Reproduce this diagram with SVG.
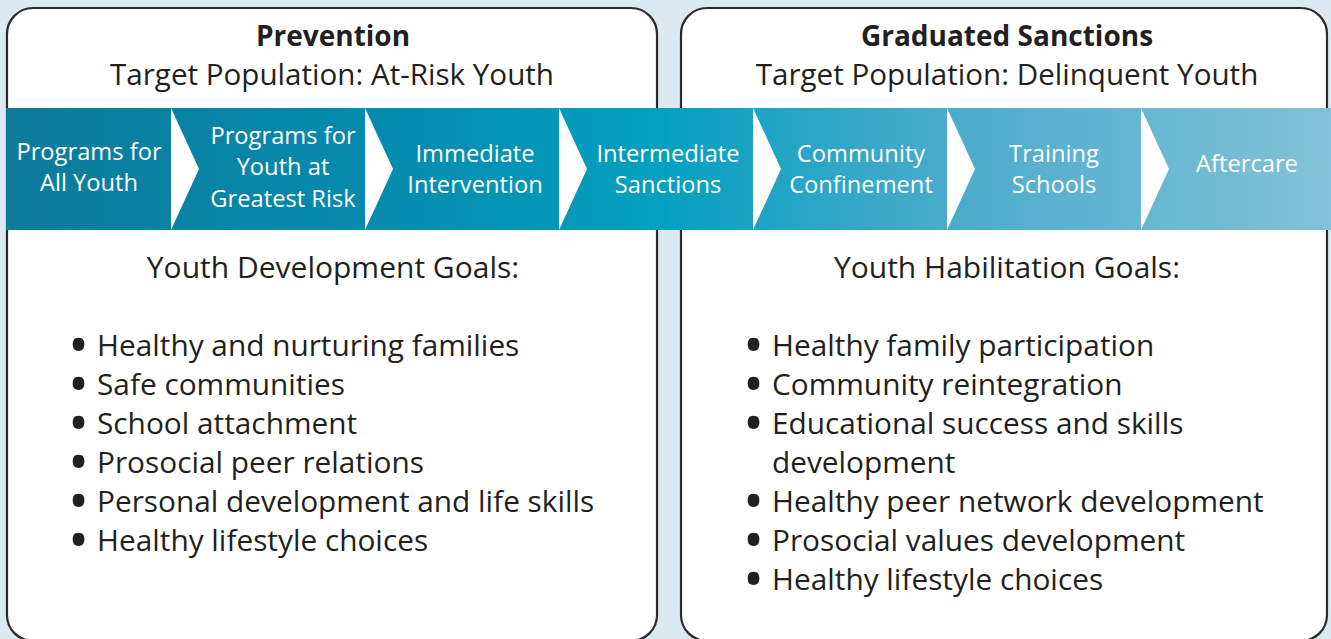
<svg xmlns="http://www.w3.org/2000/svg" width="1331" height="639" viewBox="0 0 1331 639">
<defs>
<linearGradient id="band" x1="0" y1="0" x2="1331" y2="0" gradientUnits="userSpaceOnUse">
<stop offset="0" stop-color="#0c7a9b"/>
<stop offset="0.3" stop-color="#058caf"/>
<stop offset="0.5" stop-color="#05a0c0"/>
<stop offset="0.7" stop-color="#48aacb"/>
<stop offset="1" stop-color="#82c2d8"/>
</linearGradient>
<style>
.box{fill:#ffffff;stroke:#2b2b2b;stroke-width:2.2}
.t{font-family:"Open Sans",Lato,sans-serif;fill:#231f20}
.title{font-size:28px;font-weight:bold;text-anchor:middle}
.sub{font-size:29.6px;text-anchor:middle}
.goal{font-size:30px;text-anchor:middle}
.li{font-size:29.8px}
.dot{font-size:56px}
.b{font-family:"Open Sans",Lato,sans-serif;fill:#ffffff;font-size:23.7px;text-anchor:middle}
.chev{fill:#ffffff}
</style>
</defs>
<rect x="0" y="0" width="1331" height="639" fill="#dbe9f0"/>

<g id="prevention">
<rect class="box" x="7" y="8" width="650" height="633" rx="26"/>
<text class="t title" x="333" y="46">Prevention</text>
<text class="t sub" x="332" y="85">Target Population: At-Risk Youth</text>
</g>
<g id="graduated-sanctions">
<rect class="box" x="681" y="8" width="646" height="633" rx="26"/>
<text class="t title" x="1007" y="46">Graduated Sanctions</text>
<text class="t sub" x="1007" y="85">Target Population: Delinquent Youth</text>
</g>

<g id="continuum">
<rect x="6" y="108" width="1325" height="122" fill="url(#band)"/>
<polygon class="chev" points="171,108 199,169 171,230"/>
<polygon class="chev" points="365,108 393,169 365,230"/>
<polygon class="chev" points="559,108 587,169 559,230"/>
<polygon class="chev" points="753,108 781,169 753,230"/>
<polygon class="chev" points="947,108 975,169 947,230"/>
<polygon class="chev" points="1141,108 1169,169 1141,230"/>
</g>

<g id="step-all-youth"><text class="b" x="89" y="160">Programs for</text><text class="b" x="89" y="191">All Youth</text></g>
<g id="step-greatest-risk"><text class="b" x="283" y="144">Programs for</text><text class="b" x="283" y="175">Youth at</text><text class="b" x="283" y="207">Greatest Risk</text></g>
<g id="step-immediate"><text class="b" x="475" y="162">Immediate</text><text class="b" x="475" y="193">Intervention</text></g>
<g id="step-intermediate"><text class="b" x="668" y="162">Intermediate</text><text class="b" x="668" y="193">Sanctions</text></g>
<g id="step-community"><text class="b" x="861" y="162">Community</text><text class="b" x="861" y="193">Confinement</text></g>
<g id="step-training"><text class="b" x="1054" y="162">Training</text><text class="b" x="1054" y="193">Schools</text></g>
<g id="step-aftercare"><text class="b" x="1247" y="172">Aftercare</text></g>

<g id="development-goals">
<text class="t goal" x="333" y="278">Youth Development Goals:</text>
<text class="t li" x="68" y="356"><tspan class="dot" dy="9">•</tspan><tspan x="97" dy="-9">Healthy and nurturing families</tspan></text>
<text class="t li" x="68" y="395"><tspan class="dot" dy="9">•</tspan><tspan x="97" dy="-9">Safe communities</tspan></text>
<text class="t li" x="68" y="434"><tspan class="dot" dy="9">•</tspan><tspan x="97" dy="-9">School attachment</tspan></text>
<text class="t li" x="68" y="473"><tspan class="dot" dy="9">•</tspan><tspan x="97" dy="-9">Prosocial peer relations</tspan></text>
<text class="t li" x="68" y="512"><tspan class="dot" dy="9">•</tspan><tspan x="97" dy="-9">Personal development and life skills</tspan></text>
<text class="t li" x="68" y="551"><tspan class="dot" dy="9">•</tspan><tspan x="97" dy="-9">Healthy lifestyle choices</tspan></text>
</g>
<g id="habilitation-goals">
<text class="t goal" x="1007" y="278">Youth Habilitation Goals:</text>
<text class="t li" x="743" y="356"><tspan class="dot" dy="9">•</tspan><tspan x="772" dy="-9">Healthy family participation</tspan></text>
<text class="t li" x="743" y="395"><tspan class="dot" dy="9">•</tspan><tspan x="772" dy="-9">Community reintegration</tspan></text>
<text class="t li" x="743" y="434"><tspan class="dot" dy="9">•</tspan><tspan x="772" dy="-9">Educational success and skills</tspan></text>
<text class="t li" x="772" y="473">development</text>
<text class="t li" x="743" y="512"><tspan class="dot" dy="9">•</tspan><tspan x="772" dy="-9">Healthy peer network development</tspan></text>
<text class="t li" x="743" y="551"><tspan class="dot" dy="9">•</tspan><tspan x="772" dy="-9">Prosocial values development</tspan></text>
<text class="t li" x="743" y="590"><tspan class="dot" dy="9">•</tspan><tspan x="772" dy="-9">Healthy lifestyle choices</tspan></text>
</g>
</svg>
